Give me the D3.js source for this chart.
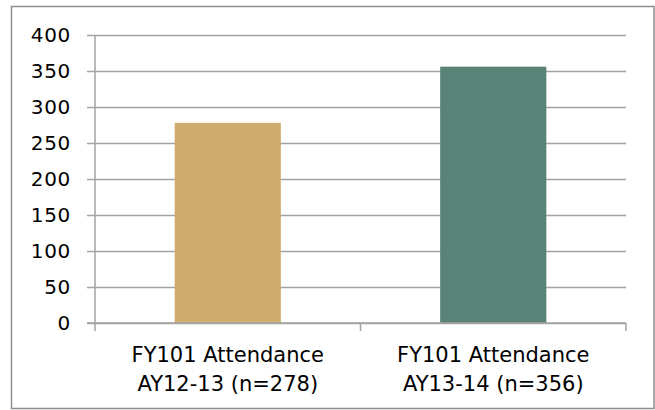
<!DOCTYPE html>
<html>
<head>
<meta charset="utf-8">
<script src="https://cdn.jsdelivr.net/npm/d3@7"></script>
<style>
  body { margin: 0; background: #fff; }
  text { font-family: "DejaVu Sans", sans-serif; fill: #000; }
</style>
</head>
<body>
<div id="chart"></div>
<script>
// data
var categories = [
  ["FY101 Attendance", "AY12-13 (n=278)"],
  ["FY101 Attendance", "AY13-14 (n=356)"]
];
var values = [278, 356];
var barColors = ["#cfad6f", "#598377"];
var yTicks = [0, 50, 100, 150, 200, 250, 300, 350, 400];

var width = 655, height = 410;
var margin = { top: 35, right: 29, bottom: 87, left: 95 },
  innerW = width - margin.left - margin.right,
  innerH = height - margin.top - margin.bottom;

var svg = d3.select("#chart")
  .append("svg")
  .attr("width", width)
  .attr("height", height);

// outer frame
svg.append("rect")
  .attr("x", 11.5).attr("y", 6.5)
  .attr("width", width - 12.5).attr("height", height - 8)
  .attr("fill", "none")
  .attr("stroke", "#8e8e8e")
  .attr("stroke-width", 1.5);

var g = svg.append("g")
  .attr("transform", "translate(" + margin.left + "," + margin.top + ")");

var x = d3.scaleBand()
  .domain(d3.range(categories.length))
  .range([0, innerW])
  .paddingInner(0.6)
  .paddingOuter(0.3);

var y = d3.scaleLinear()
  .domain([0, 400])
  .range([innerH, 0]);

// gridlines + y axis
var yAxis = g.append("g")
  .call(d3.axisLeft(y).tickValues(yTicks).tickSize(-innerW).tickPadding(24));
yAxis.select(".domain").remove();
yAxis.selectAll(".tick line")
  .attr("stroke", "#a3a3a3")
  .attr("stroke-width", 1.5)
  .attr("x1", -8);
yAxis.selectAll(".tick text")
  .style("font-size", "20px")
  .style("letter-spacing", "0.7px")
  .style("font-family", "'DejaVu Sans', sans-serif")
  .attr("fill", "#000");

// bars
g.append("g")
  .selectAll("rect")
  .data(values)
  .enter()
  .append("rect")
  .attr("x", function (d, i) { return x(i); })
  .attr("y", function (d) { return y(d); })
  .attr("width", x.bandwidth())
  .attr("height", function (d) { return innerH - y(d); })
  .attr("fill", function (d, i) { return barColors[i]; });

// y axis line
g.append("line")
  .attr("x1", 0).attr("x2", 0)
  .attr("y1", 0).attr("y2", innerH + 8)
  .attr("stroke", "#a3a3a3")
  .attr("stroke-width", 1.5);

// x axis line with category separators
g.append("line")
  .attr("x1", -8).attr("x2", innerW)
  .attr("y1", innerH).attr("y2", innerH)
  .attr("stroke", "#a3a3a3")
  .attr("stroke-width", 1.5);

var step = innerW / categories.length;
g.append("g")
  .selectAll("line")
  .data(d3.range(1, categories.length + 1))
  .enter()
  .append("line")
  .attr("x1", function (d) { return d * step; })
  .attr("x2", function (d) { return d * step; })
  .attr("y1", innerH)
  .attr("y2", innerH + 8)
  .attr("stroke", "#a3a3a3")
  .attr("stroke-width", 1.5);

// category labels, two lines each
var labels = g.append("g")
  .selectAll("text")
  .data(categories)
  .enter()
  .append("text")
  .attr("text-anchor", "middle")
  .attr("transform", function (d, i) {
    return "translate(" + (x(i) + x.bandwidth() / 2) + "," + (innerH + 39) + ")";
  })
  .style("font-size", "21px");

labels.selectAll("tspan")
  .data(function (d) { return d; })
  .enter()
  .append("tspan")
  .attr("x", 0)
  .attr("dy", function (d, i) { return i === 0 ? 0 : 29; })
  .text(function (d) { return d; });
</script>
</body>
</html>
